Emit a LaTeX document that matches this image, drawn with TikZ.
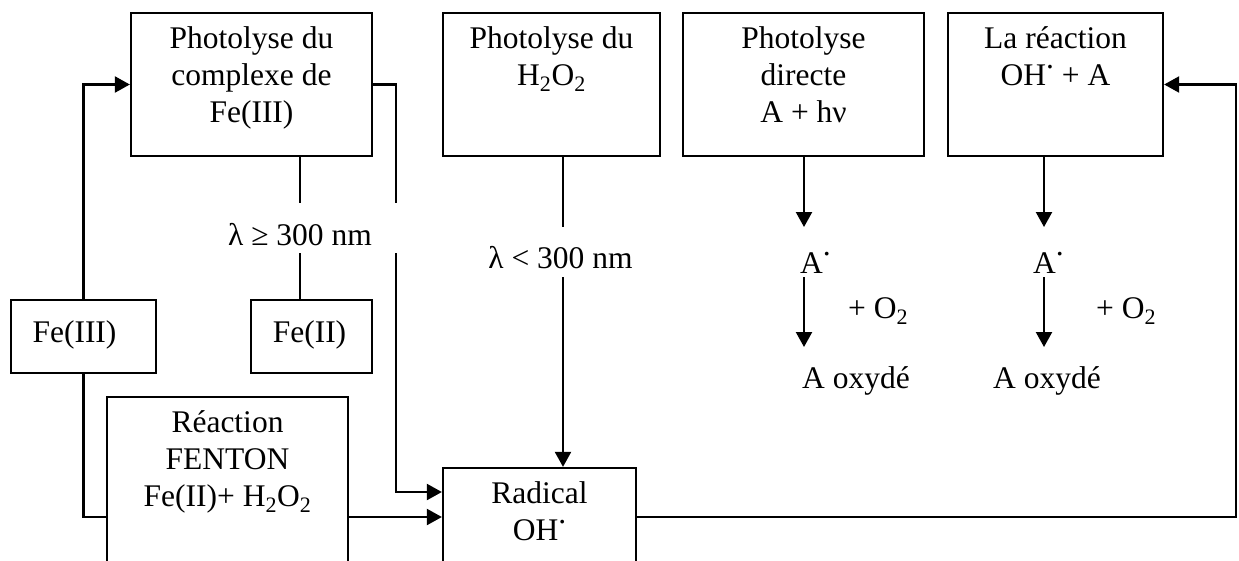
\documentclass[tikz,border=0pt]{standalone}
\usepackage{fontspec}
\setmainfont{Liberation Serif}
\usetikzlibrary{arrows.meta}
\newcommand{\rdot}{\raisebox{0.55em}[0pt][0pt]{.}}
\begin{document}
\begin{tikzpicture}[x=1pt,y=-1pt,
  box/.style={draw,line width=2.3pt,inner sep=0pt},
  txt/.style={inner sep=0pt,align=center,font=\fontsize{31.5}{37}\selectfont},
  ttop/.style={txt,anchor=north,execute at begin node=\strut},
  line/.style={line width=2.3pt},
  arr/.style={line width=2.3pt,-{Triangle[length=15pt,width=16pt]}},
  gapbox/.style={fill=white,inner sep=0pt}]
\clip (0,0) rectangle (1239,560);
\fill[white] (0,0) rectangle (1239,560);
% boxes
\node[box,minimum width=241,minimum height=143] (b1) at (251.5,84.5) {};
\node[box,minimum width=217,minimum height=143] (h2o2) at (551.5,84.5) {};
\node[box,minimum width=241,minimum height=143] (direct) at (803.5,84.5) {};
\node[box,minimum width=215,minimum height=143] (oha) at (1055.5,84.5) {};
\node[box,minimum width=145,minimum height=73] (fe3) at (83.5,336.5) {};
\node[box,minimum width=121,minimum height=73] (fe2) at (311.5,336.5) {};
\node[box,minimum width=241,minimum height=240] (fenton) at (227.5,517) {};
\node[box,minimum width=193,minimum height=98] (rad) at (539.5,517) {};
% box texts
\node[ttop] (t1) at ([yshift=-15pt]b1.north) {Photolyse du\\complexe de\\Fe(III)};
\node[ttop] (t2) at ([yshift=-15pt]h2o2.north) {Photolyse du\\H\textsubscript{2}O\textsubscript{2}};
\node[ttop] (t3) at ([yshift=-15pt]direct.north) {Photolyse\\directe\\A + hν};
\node[ttop] (t4) at ([yshift=-15pt]oha.north) {La réaction\\OH\rdot{} + A};
\node[ttop] (t5) at ([yshift=-15pt]fenton.north) {Réaction\\FENTON\\Fe(II)+ H\textsubscript{2}O\textsubscript{2}};
\node[ttop] (t6) at ([yshift=-15pt]rad.north) {Radical\\OH\rdot};
\node[txt,anchor=base] (t7) at (74.5,342) {Fe(III)};
\node[txt,anchor=base] (t8) at (309.5,342) {Fe(II)};
% coordinates
\coordinate (v1) at (300,0);
\coordinate (v2) at (563,0);
\coordinate (k1) at (396,492);
\coordinate (k2) at (1236,517);
\coordinate (p1a) at (804,227);
\coordinate (p1b) at (804,277);
\coordinate (p1c) at (804,347);
\coordinate (p2a) at (1044,227);
\coordinate (p2b) at (1044,277);
\coordinate (p2c) at (1044,347);
% connectors
\draw[arr] (fe3.north) |- (b1.west);
\draw[line] (fe3.south) |- (fenton.west);
\draw[arr] (b1.east) -| (k1) -- (k1 -| rad.west);
\draw[line] (b1.south -| v1) -- (fe2.north -| v1);
\draw[arr] (h2o2.south -| v2) -- (rad.north -| v2);
\draw[arr] (fenton.east) -- (rad.west);
\draw[arr] (rad.east) -- (k2) |- (oha.east);
\draw[arr] (direct.south -| p1a) -- (p1a);
\draw[arr] (p1b) -- (p1c);
\draw[arr] (oha.south -| p2a) -- (p2a);
\draw[arr] (p2b) -- (p2c);
% labels
\node[gapbox,minimum width=200,minimum height=50] (g1) at (300,228) {};
\node[txt,anchor=base] (l1) at (300,245) {λ ≥ 300 nm};
\node[gapbox,minimum width=160,minimum height=50] (g2) at (563,252) {};
\node[txt,anchor=base] (l2) at (560.5,268) {λ < 300 nm};
\node[txt,anchor=base west] (a1) at (800,273) {A\rdot};
\node[txt,anchor=base west] (a2) at (1033,273) {A\rdot};
\node[txt,anchor=base west] (o1) at (848,318) {+ O\textsubscript{2}};
\node[txt,anchor=base west] (o2) at (1096,318) {+ O\textsubscript{2}};
\node[txt,anchor=base west] (x1) at (802,388) {A oxydé};
\node[txt,anchor=base west] (x2) at (993,388) {A oxydé};
\end{tikzpicture}
\end{document}
